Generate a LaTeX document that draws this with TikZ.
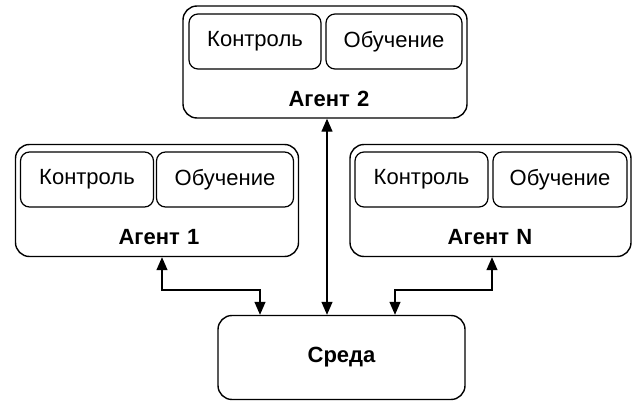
\documentclass[tikz,border=0pt]{standalone}
\usepackage{fontspec}
\setmainfont{Liberation Sans}
\usetikzlibrary{arrows.meta}
\begin{document}
\begin{tikzpicture}[x=1pt,y=-1pt,
  outerbox/.style={draw, line width=1.4pt, rounded corners=14pt, minimum height=112pt, inner sep=0pt},
  innerbox/.style={draw, line width=1.2pt, rounded corners=9pt, minimum height=55pt, inner sep=0pt, font=\fontsize{22}{26}\selectfont},
  lbl/.style={font=\fontsize{22}{26}\selectfont\bfseries, inner sep=0pt},
  envbox/.style={draw, line width=1.4pt, rounded corners=14pt, minimum width=247pt, minimum height=84pt, inner sep=0pt, font=\fontsize{22}{26}\selectfont\bfseries},
  dbl/.style={line width=1.3pt, {Triangle[length=13pt,width=11pt]}-{Triangle[length=13pt,width=11pt]}}]
\useasboundingbox (0,0) rectangle (632,401);
% Agent 2
\node[outerbox, minimum width=284pt] (a2) at (325,62) {};
\node[innerbox, minimum width=132pt] (a2k) at (255,41.5) {Контроль};
\node[innerbox, minimum width=136pt] (a2o) at (394,41.5) {Обучение};
\node[lbl] (a2l) at (329,99) {Агент\,\,2};
% Agent 1
\node[outerbox, minimum width=283pt] (a1) at (157,200.5) {};
\node[innerbox, minimum width=133pt] (a1k) at (87,179.5) {Контроль};
\node[innerbox, minimum width=137pt] (a1o) at (225,179.5) {Обучение};
\node[lbl] (a1l) at (159,237) {Агент\,\,1};
% Agent N
\node[outerbox, minimum width=281pt] (an) at (490.5,200.5) {};
\node[innerbox, minimum width=133pt] (ank) at (421.5,179.5) {Контроль};
\node[innerbox, minimum width=134pt] (ano) at (560,179.5) {Обучение};
\node[lbl] (anl) at (490,237) {Агент\,\,N};
% Environment
\node[envbox] (env) at (341.5,357.5) {Среда};
% connectors
\coordinate (jl) at (162,290);
\coordinate (el) at (260,0);
\coordinate (jr) at (492,290);
\coordinate (er) at (395,0);
\coordinate (mid) at (327,0);
\draw[dbl] (a1.south -| jl) -- (jl) -| (env.north -| el);
\draw[dbl] (a2.south -| mid) -- (env.north -| mid);
\draw[dbl] (an.south -| jr) -- (jr) -| (env.north -| er);
\end{tikzpicture}
\end{document}
